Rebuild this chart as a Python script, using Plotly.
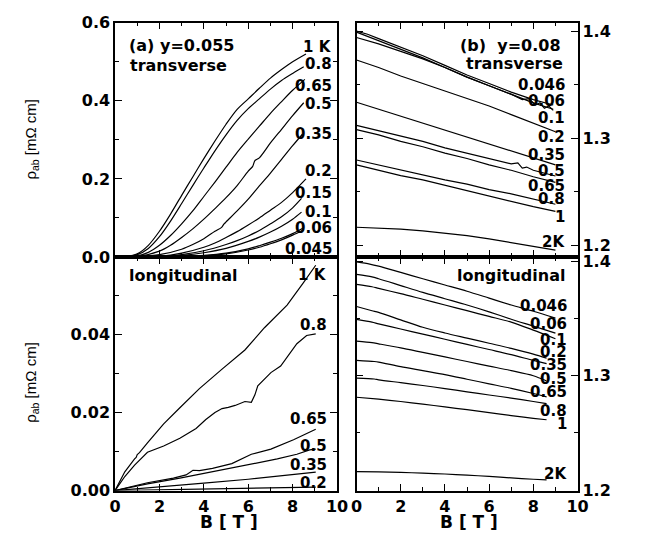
import plotly.graph_objects as go

# ---------------- Panel (a): y=0.055, transverse ----------------
a_T = ["1 K", "0.8", "0.65", "0.5", "0.35", "0.2", "0.15", "0.1", "0.06", "0.045"]
a_B = [
    [0, 0.5, 1, 1.5, 2, 2.5, 3, 3.5, 4, 4.5, 5, 5.5, 6, 6.5, 7, 7.5, 8, 8.6],
    [0, 0.5, 1, 1.5, 2, 2.5, 3, 3.5, 4, 4.5, 5, 5.5, 6, 6.5, 7, 7.5, 8, 8.5],
    [0, 1, 1.5, 2, 2.5, 3, 3.5, 4, 4.5, 5, 5.5, 6, 6.5, 7, 7.5, 8, 8.55],
    [0, 1, 2, 2.5, 3, 3.5, 4, 4.5, 5, 5.5, 6, 6.2, 6.3, 6.5, 7, 7.5, 8, 8.5],
    [0, 1, 2, 3, 3.5, 4, 4.5, 4.8, 4.9, 5, 5.5, 6, 6.5, 7, 7.5, 8, 8.45],
    [0, 2, 3, 4, 4.5, 5, 5.5, 6, 6.5, 7, 7.5, 8, 8.6],
    [0, 2, 3, 4, 5, 5.5, 6, 6.5, 7, 7.5, 8, 8.4],
    [0, 2, 3, 4, 5, 6, 6.5, 7, 7.5, 8, 8.4],
    [0, 3, 4, 5, 6, 6.5, 7, 7.5, 8, 8.5],
    [0, 3, 4, 5, 6, 6.5, 7, 7.5, 8, 8.5],
]
a_R = [
    [0, 0.001, 0.008, 0.03, 0.066, 0.11, 0.158, 0.205, 0.252, 0.297, 0.34, 0.378, 0.405, 0.432, 0.458, 0.48, 0.5, 0.52],
    [0, 0.0008, 0.006, 0.022, 0.052, 0.092, 0.137, 0.183, 0.228, 0.272, 0.313, 0.35, 0.38, 0.405, 0.43, 0.452, 0.47, 0.487],
    [0, 0.003, 0.012, 0.03, 0.055, 0.085, 0.118, 0.155, 0.192, 0.23, 0.268, 0.302, 0.335, 0.368, 0.398, 0.427, 0.455],
    [0, 0.001, 0.015, 0.03, 0.05, 0.072, 0.097, 0.124, 0.152, 0.183, 0.22, 0.232, 0.247, 0.254, 0.292, 0.327, 0.362, 0.395],
    [0, 0.0005, 0.006, 0.02, 0.032, 0.047, 0.066, 0.076, 0.084, 0.09, 0.118, 0.148, 0.182, 0.215, 0.25, 0.285, 0.315],
    [0, 0.002, 0.01, 0.025, 0.036, 0.05, 0.065, 0.082, 0.1, 0.12, 0.14, 0.165, 0.2],
    [0, 0.001, 0.006, 0.016, 0.032, 0.042, 0.054, 0.068, 0.085, 0.103, 0.126, 0.15],
    [0, 0.0005, 0.004, 0.011, 0.022, 0.04, 0.051, 0.064, 0.079, 0.097, 0.115],
    [0, 0.001, 0.004, 0.01, 0.021, 0.029, 0.038, 0.048, 0.06, 0.075],
    [0, 0.0008, 0.003, 0.008, 0.018, 0.025, 0.034, 0.044, 0.056, 0.07],
]
a_lab_y = [0.538, 0.495, 0.437, 0.392, 0.314, 0.221, 0.165, 0.116, 0.075, 0.021]

# ---------------- Panel (b): y=0.08, transverse ----------------
b_T = ["0.046", "0.06", "0.1", "0.2", "0.35", "0.5", "0.65", "0.8", "1", "2K"]
b_B = [
    [0, 0.5, 1, 2, 3, 4, 5, 6, 7, 8, 8.9],
    [0, 0.5, 1, 2, 3, 4, 5, 6, 7, 7.5, 7.8, 8.1, 8.3, 8.5, 8.7, 8.9],
    [0, 1, 2, 3, 4, 5, 6, 7, 8, 8.9],
    [0, 1, 2, 3, 4, 5, 6, 7, 8, 9],
    [0, 1, 2, 3, 4, 5, 6, 7, 8, 9],
    [0, 1, 2, 3, 4, 5, 6, 7, 7.3, 7.5, 7.7, 8, 9],
    [0, 1, 2, 3, 4, 5, 6, 7, 8, 9],
    [0, 1, 2, 3, 4, 5, 6, 7, 8, 9],
    [0, 1, 2, 3, 4, 5, 6, 7, 8, 9],
    [0, 1, 2, 3, 4, 5, 6, 7, 8, 9],
]
b_R = [
    [1.400, 1.397, 1.393, 1.385, 1.377, 1.368, 1.359, 1.351, 1.343, 1.336, 1.331],
    [1.399, 1.395, 1.391, 1.383, 1.375, 1.366, 1.357, 1.349, 1.341, 1.336, 1.337, 1.331, 1.333, 1.328, 1.330, 1.326],
    [1.394, 1.388, 1.381, 1.374, 1.366, 1.357, 1.349, 1.341, 1.333, 1.327],
    [1.373, 1.366, 1.358, 1.351, 1.344, 1.337, 1.330, 1.322, 1.314, 1.306],
    [1.3335, 1.327, 1.320, 1.314, 1.307, 1.301, 1.294, 1.288, 1.281, 1.275],
    [1.312, 1.307, 1.302, 1.297, 1.291, 1.286, 1.281, 1.276, 1.277, 1.272, 1.273, 1.270, 1.2647],
    [1.308, 1.303, 1.297, 1.292, 1.286, 1.281, 1.275, 1.270, 1.264, 1.2587],
    [1.2796, 1.275, 1.270, 1.266, 1.261, 1.257, 1.252, 1.248, 1.243, 1.2383],
    [1.275, 1.270, 1.265, 1.261, 1.256, 1.251, 1.246, 1.241, 1.236, 1.2317],
    [1.2168, 1.2162, 1.2150, 1.2135, 1.2115, 1.209, 1.206, 1.2025, 1.199, 1.1955],
]
b_lab_y = [1.3494, 1.335, 1.3186, 1.3012, 1.2847, 1.2692, 1.2557, 1.2431, 1.2266, 1.2033]

# ---------------- Panel (a) longitudinal ----------------
c_T = ["1 K", "0.8", "0.65", "0.5", "0.35", "0.2"]
c_B = [
    [0, 0.44, 0.88, 0.95, 1.0, 1.1, 1.46, 2.19, 2.92, 3.8, 4.82, 5.85, 6.73, 7.75, 8.48, 9.04],
    [0, 0.44, 0.88, 1.46, 2.19, 2.92, 3.65, 4.09, 4.5, 4.82, 5.1, 5.41, 5.85, 6.14, 6.3, 6.43, 7.02, 7.46, 8.19, 8.63, 9.04],
    [0, 1.46, 2.63, 3.2, 3.51, 3.8, 4.39, 5.26, 6.14, 7.02, 8.04, 8.77, 9.04],
    [0, 1.46, 2.92, 4.39, 5.85, 7.31, 8.19, 8.77, 9.04],
    [0, 2, 4, 6, 8, 9.04],
    [0, 3, 6, 9.04],
]
c_R = [
    [0, 0.0048, 0.0081, 0.0085, 0.0092, 0.0097, 0.0122, 0.0171, 0.0212, 0.0261, 0.0311, 0.036, 0.0417, 0.0475, 0.0532, 0.0577],
    [0, 0.0036, 0.0065, 0.0098, 0.0114, 0.0134, 0.0159, 0.0182, 0.0200, 0.0210, 0.0213, 0.0218, 0.0228, 0.0226, 0.0245, 0.0268, 0.0302, 0.0319, 0.0376, 0.0397, 0.0401],
    [0, 0.002, 0.0032, 0.0040, 0.0052, 0.0051, 0.0057, 0.0069, 0.0093, 0.0106, 0.013, 0.0151, 0.0157],
    [0, 0.0017, 0.0032, 0.0048, 0.0065, 0.0081, 0.0093, 0.0104, 0.0106],
    [0, 0.0009, 0.0019, 0.0029, 0.0040, 0.0047],
    [0, 0.0003, 0.0006, 0.0009],
]
c_lab_y = [0.0551, 0.0425, 0.0184, 0.0114, 0.0065, 0.002]

# ---------------- Panel (b) longitudinal ----------------
d_T = ["0.046", "0.06", "0.1", "0.2", "0.35", "0.5", "0.65", "0.8", "1", "2K"]
d_B = [
    [0, 0.6, 1, 2, 3, 4, 5, 6, 7, 8, 9],
    [0, 0.7, 1, 2, 3, 4, 5, 6, 7, 8, 9],
    [0, 0.7, 1, 2, 3, 4, 5, 6, 7, 8, 9],
    [0, 0.7, 1, 2, 3, 4, 5, 6, 7, 8, 8.6],
    [0, 0.7, 1, 2, 3, 4, 5, 6, 7, 8, 8.6],
    [0, 0.7, 1, 2, 3, 4, 5, 6, 7, 8, 8.6],
    [0, 0.8, 1, 2, 3, 4, 5, 6, 7, 8, 8.6],
    [0, 0.8, 1, 2, 3, 4, 5, 6, 7, 8, 8.6],
    [0, 1, 2, 3, 4, 5, 6, 7, 8, 8.6],
    [0, 1, 2, 3, 4, 5, 6, 7, 8, 8.6],
]
d_R = [
    [1.3997, 1.3978, 1.396, 1.3905, 1.385, 1.3795, 1.374, 1.368, 1.362, 1.3565, 1.3505],
    [1.3888, 1.3866, 1.385, 1.379, 1.373, 1.3675, 1.362, 1.356, 1.3495, 1.3435, 1.3374],
    [1.380, 1.378, 1.3765, 1.372, 1.367, 1.362, 1.357, 1.352, 1.347, 1.340, 1.3325],
    [1.3607, 1.357, 1.3555, 1.349, 1.3425, 1.3375, 1.3330, 1.3285, 1.324, 1.319, 1.3155],
    [1.3494, 1.347, 1.3455, 1.341, 1.3365, 1.332, 1.3275, 1.323, 1.3185, 1.3135, 1.3107],
    [1.3303, 1.329, 1.328, 1.3245, 1.3205, 1.3165, 1.3125, 1.3085, 1.3045, 1.300, 1.2955],
    [1.3135, 1.3125, 1.312, 1.308, 1.3045, 1.301, 1.297, 1.293, 1.289, 1.2845, 1.2815],
    [1.298, 1.2972, 1.2965, 1.294, 1.2915, 1.2888, 1.286, 1.2832, 1.2805, 1.2775, 1.2756],
    [1.2812, 1.2795, 1.2775, 1.2752, 1.2728, 1.2703, 1.2678, 1.2652, 1.2628, 1.2615],
    [1.216, 1.2158, 1.2154, 1.2148, 1.214, 1.213, 1.2119, 1.2106, 1.2094, 1.2088],
]
d_lab_y = [1.3612, 1.345, 1.3312, 1.3211, 1.3093, 1.2975, 1.2854, 1.2694, 1.2581, 1.2143]

# ---------------- figure ----------------
W, H = 645, 544
xl = [112 / W, 340 / W]
xr = [360 / W, 587 / W]
yt = [1 - 257 / H, 1 - 14 / H]
yb = [1 - 499 / H, 1 - 257 / H]

fig = go.Figure()
panels = [
    (a_B, a_R, "x", "y", "spline"),
    (b_B, b_R, "x2", "y2", "linear"),
    (c_B, c_R, "x3", "y3", "linear"),
    (d_B, d_R, "x4", "y4", "spline"),
]
for Bs, Rs, xa, ya, shape in panels:
    for bb, rr in zip(Bs, Rs):
        fig.add_trace(go.Scatter(x=bb, y=rr, mode="lines",
                                 line=dict(color="black", width=1.2, shape=shape, smoothing=0.8),
                                 xaxis=xa, yaxis=ya, showlegend=False,
                                 hoverinfo="skip"))

tickfont = dict(family="DejaVu Sans", size=16, color="black", weight="bold")
minor_x = dict(ticks="inside", ticklen=4, dtick=1, tickcolor="black", tickwidth=1.2)
xcommon = dict(range=[0, 10], dtick=2, ticks="inside", ticklen=7, tickwidth=1.2,
               tickcolor="black", mirror="ticks", showline=True, linecolor="black",
               linewidth=1.5, showgrid=False, zeroline=False, minor=minor_x,
               tickfont=tickfont)
ycommon = dict(ticks="inside", ticklen=7, tickwidth=1.2, tickcolor="black",
               mirror="ticks", showline=True, linecolor="black", linewidth=1.5,
               showgrid=False, zeroline=False, tickfont=tickfont)

fig.update_layout(
    width=W, height=H, autosize=False,
    margin=dict(l=0, r=0, t=0, b=0),
    paper_bgcolor="white", plot_bgcolor="white",
    xaxis=dict(domain=xl, anchor="y", showticklabels=False, **xcommon),
    xaxis2=dict(domain=xr, anchor="y2", showticklabels=False, **xcommon),
    xaxis3=dict(domain=xl, anchor="y3", showticklabels=True, **xcommon),
    xaxis4=dict(domain=xr, anchor="y4", showticklabels=True, **xcommon),
    yaxis=dict(domain=yt, anchor="x", range=[0, 0.6005], dtick=0.2, tickformat=".1f",
               minor=dict(ticks="inside", ticklen=4, dtick=0.1, tickcolor="black"), **ycommon),
    yaxis2=dict(domain=yt, anchor="x2", side="right", range=[1.189, 1.408], dtick=0.1,
                tick0=1.2, tickformat=".1f",
                minor=dict(ticks="inside", ticklen=4, dtick=0.05, tick0=1.2, tickcolor="black"), **ycommon),
    yaxis3=dict(domain=yb, anchor="x3", range=[0, 0.0598], dtick=0.02, tickformat=".2f",
                minor=dict(ticks="inside", ticklen=4, dtick=0.01, tickcolor="black"), **ycommon),
    yaxis4=dict(domain=yb, anchor="x4", side="right", range=[1.1995, 1.404], dtick=0.1,
                tick0=1.2, tickformat=".1f",
                minor=dict(ticks="inside", ticklen=4, dtick=0.05, tick0=1.2, tickcolor="black"), **ycommon),
)

lab_font = dict(family="DejaVu Sans", size=15, color="black", weight="bold")
big_font = dict(family="DejaVu Sans", size=16, color="black", weight="bold")
ann = []
def lab(text, x, y, xr_, yr_, anchor="right", font=lab_font):
    ann.append(dict(text=text, x=x, y=y, xref=xr_, yref=yr_, xanchor=anchor,
                    yanchor="middle", showarrow=False, font=font, borderpad=0))

for t, yy in zip(a_T, a_lab_y):
    lab(t, 9.8, yy, "x", "y")
lab("(a) y=0.055", 0.6, 0.541, "x", "y", "left", big_font)
lab("transverse", 0.65, 0.49, "x", "y", "left", big_font)

for t, yy in zip(b_T, b_lab_y):
    lab(t, 9.47, yy, "x2", "y2")
lab("(b)  y=0.08", 9.3, 1.3868, "x2", "y2", "right", big_font)
lab("transverse", 9.4, 1.370, "x2", "y2", "right", big_font)

for t, yy in zip(c_T, c_lab_y):
    lab(t, 9.6, yy, "x3", "y3")
lab("longitudinal", 0.6, 0.0551, "x3", "y3", "left", big_font)

for t, yy in zip(d_T, d_lab_y):
    lab(t, 9.56, yy, "x4", "y4")
lab("longitudinal", 9.5, 1.3874, "x4", "y4", "right", big_font)

ytitle_font = dict(family="Liberation Sans", size=15, color="black")
for yc in [1 - 135 / H, 1 - 387 / H]:
    ann.append(dict(text="ρ<sub>ab</sub> [mΩ cm]", x=26 / W, y=yc, xref="paper",
                    yref="paper", textangle=-90, showarrow=False,
                    xanchor="center", yanchor="middle", font=ytitle_font))
xt_font = dict(family="DejaVu Sans", size=17, color="black", weight="bold")
for xc in [229 / W, 476 / W]:
    ann.append(dict(text="B [ T ]", x=xc, y=1 - 532 / H, xref="paper", yref="paper",
                    showarrow=False, xanchor="center", yanchor="middle", font=xt_font))

fig.update_layout(annotations=ann)
fig.write_html("out.html", config={"displayModeBar": False},
               post_script="document.body.style.margin='0px';document.body.style.overflow='hidden';")
